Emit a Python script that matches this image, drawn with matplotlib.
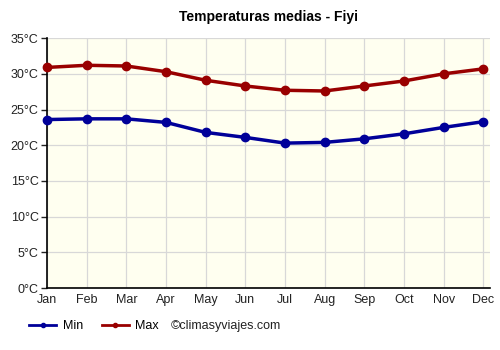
import matplotlib
matplotlib.use("Agg")
import matplotlib.pyplot as plt
from matplotlib.lines import Line2D

months = ["Jan", "Feb", "Mar", "Apr", "May", "Jun", "Jul", "Aug", "Sep", "Oct", "Nov", "Dec"]
t_min = [23.6, 23.7, 23.7, 23.2, 21.8, 21.1, 20.3, 20.4, 20.9, 21.6, 22.5, 23.3]
t_max = [30.9, 31.2, 31.1, 30.3, 29.1, 28.3, 27.7, 27.6, 28.3, 29.0, 30.0, 30.7]
yticks = [0, 5, 10, 15, 20, 25, 30, 35]

plt.rcParams['font.family'] = ['Liberation Sans', 'DejaVu Sans']

fig = plt.figure(figsize=(5, 3.5), dpi=100)
ax = fig.add_axes([0.094, 0.177, 0.886, 0.714])
ax.set_facecolor("#fffff0")

x = list(range(len(months)))
ax.plot(x, t_min, color="#000099", lw=2.5, marker="o", ms=6, clip_on=False, zorder=3)
ax.plot(x, t_max, color="#990000", lw=2.5, marker="o", ms=6, clip_on=False, zorder=3)

ax.set_xlim(0, 11.17)
ax.set_ylim(0, 35)
ax.set_xticks(x)
ax.set_xticklabels(months, fontsize=9)
ax.set_yticks(yticks)
ax.set_yticklabels([f"{v}°C" for v in yticks], fontsize=9)
ax.grid(True, color="#d8d8d8", lw=0.9)
ax.set_axisbelow(True)
ax.tick_params(axis="y", length=4, width=1, pad=2, colors="#222222")
ax.tick_params(axis="x", length=0, pad=4, colors="#222222")
for s in ["top", "right"]:
    ax.spines[s].set_visible(False)
ax.spines["left"].set_linewidth(1.2)
ax.spines["bottom"].set_linewidth(1.2)

ax.set_title("Temperaturas medias - Fiyi", fontsize=10, fontweight="bold", pad=12)

handles = [Line2D([], [], color="#000099", lw=2, marker="o", ms=3, label="Min"),
           Line2D([], [], color="#990000", lw=2, marker="o", ms=3, label="Max")]
fig.legend(handles=handles, loc="center left", bbox_to_anchor=(0.035, 0.068), ncol=2, frameon=False,
           fontsize=9, handlelength=2.2, handletextpad=0.5, columnspacing=1.5)
fig.text(0.342, 0.068, "©climasyviajes.com", fontsize=9, va="center", color="#222222")

fig.savefig("out.png", dpi=100)
